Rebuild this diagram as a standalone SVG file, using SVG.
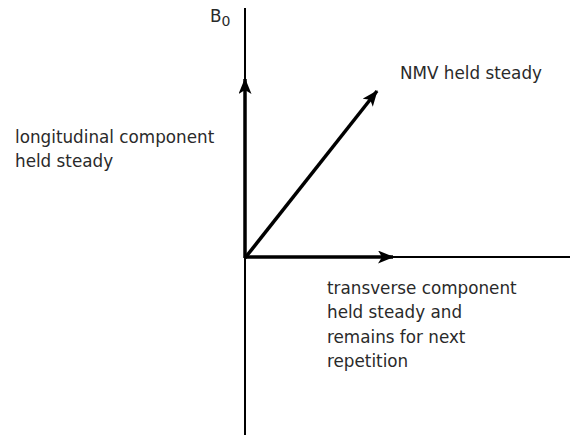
<svg xmlns="http://www.w3.org/2000/svg" width="570" height="435" viewBox="0 0 570 435">
<style>
.axis{stroke:#000;stroke-width:2;fill:none}
.vec{stroke:#000;stroke-width:3.5;fill:none}
.lbl{font-family:"DejaVu Sans",sans-serif;font-size:16.8px;fill:#2a2a2a}
</style>
<defs>
<marker id="ah" viewBox="0 0 16 13" refX="15" refY="6.5" markerWidth="16" markerHeight="13" markerUnits="userSpaceOnUse" orient="auto">
<path d="M0,0 L16,6.5 L0,13 L4,6.5 Z" fill="#000"/>
</marker>
</defs>
<g id="connectors">
<line class="axis" x1="245" y1="8" x2="245" y2="435"/>
<line class="axis" x1="245" y1="257" x2="570" y2="257"/>
<line class="vec" x1="245" y1="258" x2="245" y2="79" marker-end="url(#ah)"/>
<line class="vec" x1="245" y1="258" x2="377" y2="91" marker-end="url(#ah)"/>
<line class="vec" x1="245" y1="257" x2="393" y2="257" marker-end="url(#ah)"/>
</g>
<g id="b0"><text class="lbl" x="210" y="22">B<tspan font-size="14" dy="4">0</tspan></text></g>
<g id="longitudinal"><text class="lbl" x="15" y="143">longitudinal component</text><text class="lbl" x="15" y="167">held steady</text></g>
<g id="nmv"><text class="lbl" x="400" y="79">NMV held steady</text></g>
<g id="transverse"><text class="lbl" x="327" y="294">transverse component</text><text class="lbl" x="327" y="318">held steady and</text><text class="lbl" x="327" y="343">remains for next</text><text class="lbl" x="327" y="367">repetition</text></g>
</svg>
